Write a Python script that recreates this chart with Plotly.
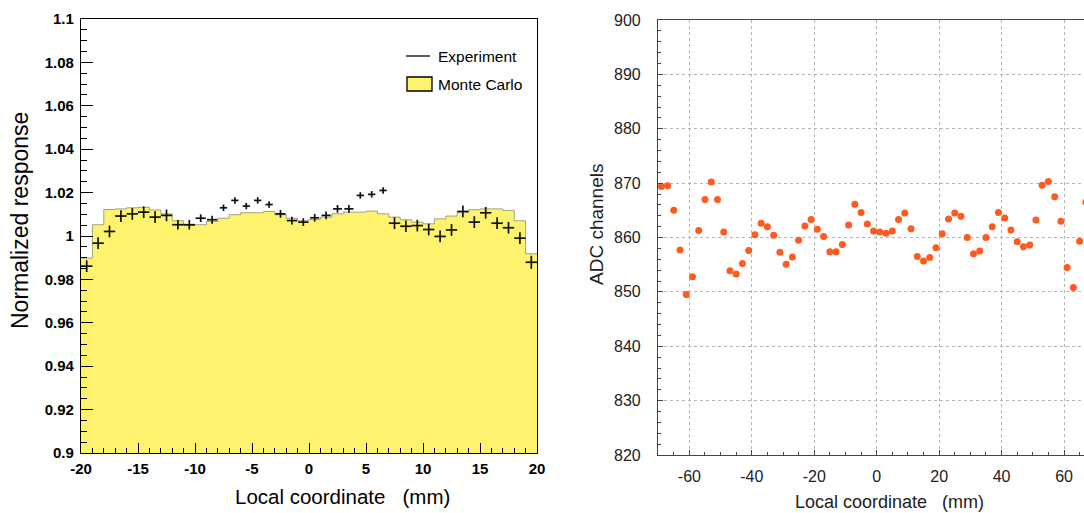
import plotly.graph_objects as go

# ---------------- Left panel data ----------------
mc_edges = [-20, -19, -18, -17, -16, -15, -14, -13, -12, -11, -10, -9, -8, -7, -6, -5, -4, -3, -2, -1,
            0, 1, 2, 3, 4, 5, 6, 7, 8, 9, 10, 11, 12, 13, 14, 15, 16, 17, 18, 19, 20]
mc_values = [0.9898, 1.0052, 1.0122, 1.0125, 1.0130, 1.0132, 1.0120, 1.0102, 1.0070, 1.0048,
             1.0052, 1.0067, 1.0082, 1.0098, 1.0107, 1.0107, 1.0113, 1.0098, 1.0082, 1.0070,
             1.0076, 1.0087, 1.0102, 1.0110, 1.0110, 1.0115, 1.0102, 1.0087, 1.0075, 1.0064,
             1.0056, 1.0079, 1.0092, 1.0110, 1.0121, 1.0125, 1.0125, 1.0118, 1.0070, 0.9918]

exp_x = [-19.5, -18.5, -17.5, -16.5, -15.5, -14.5, -13.5, -12.5, -11.5, -10.5,
         -9.5, -8.5, -7.5, -6.5, -5.5, -4.5, -3.5, -2.5, -1.5, -0.5,
         0.5, 1.5, 2.5, 3.5, 4.5, 5.5, 6.5, 7.5, 8.5, 9.5,
         10.5, 11.5, 12.5, 13.5, 14.5, 15.5, 16.5, 17.5, 18.5, 19.5]
exp_y = [0.9861, 0.9967, 1.0021, 1.0092, 1.0102, 1.0110, 1.0087, 1.0095, 1.0052, 1.0052,
         1.0082, 1.0075, 1.0130, 1.0164, 1.0138, 1.0164, 1.0145, 1.0102, 1.0071, 1.0064,
         1.0084, 1.0095, 1.0125, 1.0125, 1.0187, 1.0192, 1.0210, 1.0059, 1.0045, 1.0048,
         1.0030, 0.9998, 1.0028, 1.0113, 1.0064, 1.0107, 1.0059, 1.0038, 0.9990, 0.9879]
exp_err_x = [0.5, 0.5, 0.5, 0.5, 0.5, 0.5, 0.5, 0.5, 0.5, 0.5,
             0.45, 0.45, 0.32, 0.32, 0.32, 0.32, 0.32, 0.45, 0.45, 0.45,
             0.4, 0.4, 0.4, 0.4, 0.32, 0.32, 0.32, 0.5, 0.5, 0.5,
             0.5, 0.5, 0.5, 0.5, 0.5, 0.5, 0.5, 0.5, 0.5, 0.5]
exp_err_y = [0.0027, 0.0027, 0.0027, 0.0027, 0.0027, 0.0027, 0.0027, 0.0027, 0.0022, 0.0022,
             0.0018, 0.0018, 0.0015, 0.0015, 0.0015, 0.0015, 0.0015, 0.0018, 0.0018, 0.0018,
             0.0018, 0.0018, 0.0018, 0.0018, 0.0015, 0.0015, 0.0015, 0.0027, 0.0027, 0.0027,
             0.0027, 0.0027, 0.0027, 0.0027, 0.0027, 0.0027, 0.0027, 0.0027, 0.0027, 0.0030]

left_yticks = [0.9, 0.92, 0.94, 0.96, 0.98, 1.0, 1.02, 1.04, 1.06, 1.08, 1.1]
left_ytext = ["0.9", "0.92", "0.94", "0.96", "0.98", "1", "1.02", "1.04", "1.06", "1.08", "1.1"]
left_xticks = [-20, -15, -10, -5, 0, 5, 10, 15, 20]
left_xtext = ["-20", "-15", "-10", "-5", "0", "5", "10", "15", "20"]

# ---------------- Right panel data ----------------
adc_x = [-69, -67, -65, -63, -61, -59, -57, -55, -53, -51, -49, -47, -45, -43, -41, -39, -37, -35,
         -33, -31, -29, -27, -25, -23, -21, -19, -17, -15, -13, -11, -9, -7, -5, -3, -1,
         1, 3, 5, 7, 9, 11, 13, 15, 17, 19, 21, 23, 25, 27, 29, 31, 33, 35, 37, 39, 41,
         43, 45, 47, 49, 51, 53, 55, 57, 59, 61, 63, 65, 67]
adc_y = [869.4, 869.5, 865.0, 857.7, 849.5, 852.8, 861.3, 867.0, 870.2, 867.0, 861.0, 853.9,
         853.3, 855.2, 857.6, 860.5, 862.6, 862.0, 860.4, 857.3, 855.1, 856.4, 859.5, 862.1,
         863.3, 861.5, 860.2, 857.4, 857.4, 858.7, 862.3, 866.1, 864.6, 862.5, 861.2,
         861.0, 860.8, 861.2, 863.3, 864.5, 861.6, 856.5, 855.7, 856.3, 858.1, 860.7, 863.4,
         864.5, 863.9, 860.0, 857.0, 857.5, 860.0, 862.0, 864.6, 863.6, 861.4, 859.2, 858.3,
         858.6, 863.2, 869.6, 870.3, 867.5, 863.0, 854.5, 850.8, 859.3, 866.5]
right_xticks = [-60, -40, -20, 0, 20, 40, 60]
right_xtext = ["-60", "-40", "-20", "0", "20", "40", "60"]
right_yticks = [820, 830, 840, 850, 860, 870, 880, 890, 900]

W, H = 1084, 513
YELLOW = "#fff36e"
FAM = "Liberation Sans, Arial, sans-serif"


def px(x):
    return x / W


def py(y):
    return 1 - y / H


fig = go.Figure()

# Monte Carlo histogram (filled step)
fig.add_trace(go.Scatter(
    x=mc_edges, y=mc_values + [mc_values[-1]],
    mode="lines", line=dict(shape="hv", color="#a0a088", width=1),
    fill="tozeroy", fillcolor=YELLOW, xaxis="x", yaxis="y",
    showlegend=False, hoverinfo="skip"))

# Experiment crosses
fig.add_trace(go.Scatter(
    x=exp_x, y=exp_y, mode="markers",
    marker=dict(size=1, color="black", opacity=0),
    error_x=dict(type="data", array=exp_err_x, color="#111", thickness=1.7, width=0),
    error_y=dict(type="data", array=exp_err_y, color="#111", thickness=1.7, width=0),
    xaxis="x", yaxis="y", showlegend=False))

# ADC channels
fig.add_trace(go.Scatter(
    x=adc_x, y=adc_y, mode="markers",
    marker=dict(size=7, color="#ff5a1f", symbol="circle"),
    xaxis="x2", yaxis="y2", showlegend=False))

bold_font = dict(family=FAM, size=15, color="black", weight="bold")
reg_font = dict(family=FAM, size=16, color="#222")

fig.update_layout(
    width=W, height=H,
    margin=dict(l=0, r=0, t=0, b=0, autoexpand=False),
    paper_bgcolor="white", plot_bgcolor="white",
    xaxis=dict(domain=[px(81), px(537)], range=[-20, 20], tickvals=left_xticks, ticktext=left_xtext,
               ticks="inside", ticklen=10, tickwidth=1, tickcolor="black",
               minor=dict(dtick=1, ticks="inside", ticklen=5, tickcolor="black"),
               showline=True, linecolor="black", linewidth=1.2, mirror=True,
               showgrid=False, zeroline=False, tickfont=bold_font, anchor="y",
               automargin=False, ticklabelstandoff=2),
    yaxis=dict(domain=[py(453), py(19)], range=[0.9, 1.1], tickvals=left_yticks, ticktext=left_ytext,
               ticks="inside", ticklen=12, tickwidth=1, tickcolor="black",
               minor=dict(dtick=0.005, ticks="inside", ticklen=6, tickcolor="black"),
               showline=True, linecolor="black", linewidth=1.2, mirror=True,
               showgrid=False, zeroline=False, tickfont=bold_font, anchor="x",
               ticklabelstandoff=3, automargin=False),
    xaxis2=dict(domain=[px(658), 1.0], range=[-70.05, 66.4], tickvals=right_xticks, ticktext=right_xtext,
                ticks="inside", ticklen=5, tickwidth=1, tickcolor="#444",
                minor=dict(dtick=5, ticks="inside", ticklen=3, tickcolor="#444"),
                showline=True, linecolor="#444", linewidth=1.2, mirror=True,
                showgrid=True, gridcolor="#b5b5b5", griddash="dot", gridwidth=1,
                zeroline=False, tickfont=reg_font, anchor="y2", ticklabelstandoff=7,
                automargin=False),
    yaxis2=dict(domain=[py(455), py(20)], range=[820, 900], tickvals=right_yticks,
                ticks="inside", ticklen=5, tickwidth=1, tickcolor="#444",
                minor=dict(dtick=2, ticks="inside", ticklen=3, tickcolor="#444"),
                showline=True, linecolor="#444", linewidth=1.2, mirror=False,
                showgrid=True, gridcolor="#b5b5b5", griddash="dot", gridwidth=1,
                zeroline=False, tickfont=reg_font, anchor="x2", ticklabelstandoff=13,
                automargin=False),
)

# legend drawn manually
fig.add_shape(type="line", xref="paper", yref="paper",
              x0=px(406), x1=px(430), y0=py(56), y1=py(56),
              line=dict(color="black", width=1.3))
fig.add_shape(type="rect", xref="paper", yref="paper",
              x0=px(407), x1=px(432), y0=py(91), y1=py(77),
              fillcolor=YELLOW, line=dict(color="black", width=1.3))

leg_font = dict(family=FAM, size=15.5, color="black")
ann = [
    dict(text="Experiment", x=px(436), y=py(56), xanchor="left", yanchor="middle", font=leg_font),
    dict(text="Monte Carlo", x=px(436), y=py(84), xanchor="left", yanchor="middle", font=leg_font),
    dict(text="Normalized response", x=px(20), y=py(221), textangle=-90,
         xanchor="center", yanchor="middle",
         font=dict(family=FAM, size=23, color="black")),
    dict(text="Local coordinate   (mm)", x=px(342), y=py(496), xanchor="center", yanchor="middle",
         font=dict(family=FAM, size=20.5, color="black")),
    dict(text="ADC channels", x=px(596), y=py(225), textangle=-90,
         xanchor="center", yanchor="middle",
         font=dict(family=FAM, size=19, color="#222")),
    dict(text="Local coordinate   (mm)", x=px(889), y=py(502), xanchor="center", yanchor="middle",
         font=dict(family=FAM, size=18, color="#222")),
]
for a in ann:
    a.update(xref="paper", yref="paper", showarrow=False)
    fig.add_annotation(**a)

fig.write_html("out.html", config={"displayModeBar": False},
               post_script="document.body.style.margin='0';document.body.style.overflow='hidden';")
